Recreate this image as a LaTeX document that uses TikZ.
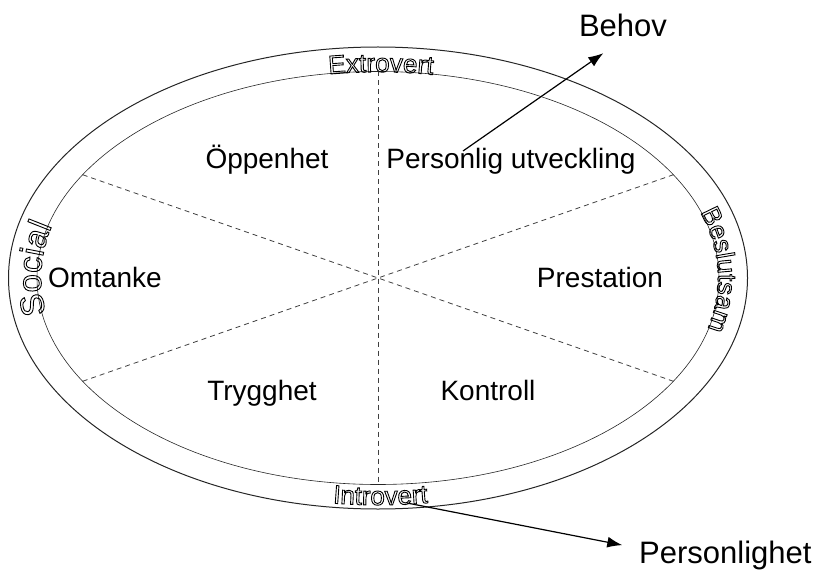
\documentclass[tikz,border=0pt]{standalone}
\usepackage{fontspec}
\setmainfont{Liberation Sans}
\usetikzlibrary{arrows.meta,decorations.text}
\newcommand\hollowon{\special{pdf:literal direct 1 Tr 0.9 w 0 G}}
\newcommand\ringfont{\fontsize{26}{30}\selectfont}
\newcommand\socialfont{\fontsize{33}{38}\selectfont}
\tikzstyle{arrow}=[draw, line width=1.2pt, -{Latex[length=15pt,width=11pt]}]
\tikzstyle{sector}=[font=\fontsize{28}{32}\selectfont, inner sep=2pt, anchor=base]
\tikzstyle{outlabel}=[font=\fontsize{31}{36}\selectfont, inner sep=2pt]
\tikzstyle{divider}=[draw=black!75, line width=0.8pt, dash pattern=on 5pt off 4pt]
\tikzstyle{ringtext}=[line width=0.9pt, decorate, decoration={text along path, text align=center}]

\begin{document}
\begin{tikzpicture}[x=1pt,y=1pt]
\useasboundingbox (0,0) rectangle (821,574);

\coordinate (ctr) at (378,296);
\draw[black!85, line width=1pt] (ctr) ellipse [x radius=369.5pt, y radius=231pt];
\draw[black!85, line width=0.6pt] (ctr) ellipse [x radius=341pt, y radius=206.5pt];

\path (ctr) ++(30:341pt and 206.5pt) coordinate (d30);
\path (ctr) ++(90:341pt and 206.5pt) coordinate (d90);
\path (ctr) ++(150:341pt and 206.5pt) coordinate (d150);
\path (ctr) ++(210:341pt and 206.5pt) coordinate (d210);
\path (ctr) ++(270:341pt and 206.5pt) coordinate (d270);
\path (ctr) ++(330:341pt and 206.5pt) coordinate (d330);

\draw [divider] (d150) -- (d330);
\draw [divider] (d210) -- (d30);
\draw [divider] (d90) -- (d270);

\node[sector] (oppen) at (267,406) {Öppenhet};
\node[sector] (pu) at (511,406) {Personlig utveckling};
\node[sector] (omtanke) at (105,287) {Omtanke};
\node[sector] (prest) at (600,287) {Prestation};
\node[sector] (trygg) at (262,174) {Trygghet};
\node[sector] (kontroll) at (488,174) {Kontroll};
\node[outlabel, anchor=base] (behov) at (623,537) {Behov};
\node[outlabel, anchor=base west] (plight) at (637,11) {Personlighet};

\coordinate (behovfoot) at (463,423);
\coordinate (introfoot) at (407,71);
\draw [arrow, shorten >=24pt] (behovfoot) -- (behov.south);
\draw [arrow, shorten >=15pt] (introfoot) -- ([yshift=7pt]plight.west);

\path [ringtext, decoration={text={|\ringfont\hollowon|Extrovert}}]
  (ctr) ++(104.5:341pt and 206pt) arc [start angle=104.5, end angle=74.5, x radius=341pt, y radius=206pt];
\path [ringtext, decoration={text={|\ringfont\hollowon|Introvert}}]
  (ctr) ++(255.4:365pt and 227pt) arc [start angle=255.4, end angle=285.4, x radius=365pt, y radius=227pt];
\path [ringtext, decoration={text={|\socialfont\hollowon|Social}}]
  (ctr) ++(200:337pt and 206pt) arc [start angle=200, end angle=155.6, x radius=337pt, y radius=206pt];
\path [ringtext, decoration={text={|\ringfont\hollowon|Beslutsam}}]
  (ctr) ++(27:340pt and 206pt) arc [start angle=27, end angle=-23, x radius=340pt, y radius=206pt];

\end{tikzpicture}
\end{document}
